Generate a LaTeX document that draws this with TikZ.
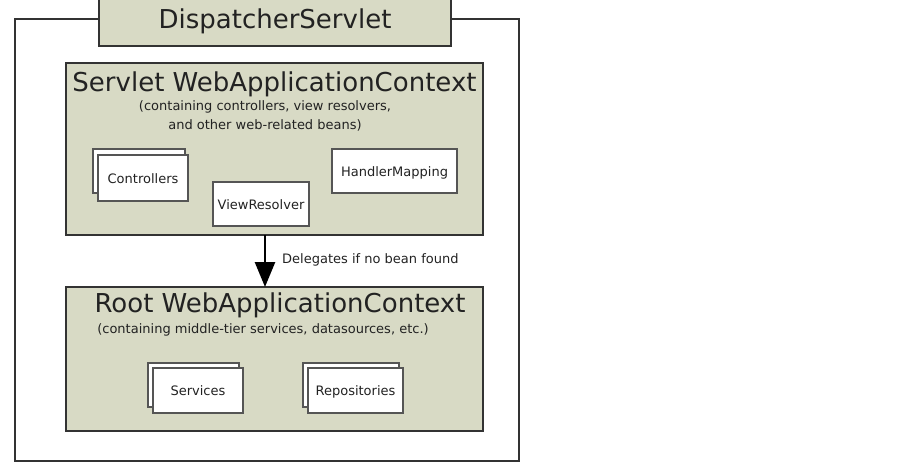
\documentclass[tikz,border=0pt]{standalone}
\usepackage{fontspec}
\setmainfont{DejaVu Sans}
\usetikzlibrary{arrows.meta}
\definecolor{ctxfill}{HTML}{D8DAC5}
\definecolor{edge}{HTML}{333333}
\definecolor{boxedge}{HTML}{555555}
\definecolor{txt}{HTML}{222222}
\begin{document}
\begin{tikzpicture}[x=1pt,y=-1pt,
  ctx/.style={draw=edge,line width=2pt,fill=ctxfill,inner sep=0pt},
  bean/.style={draw=boxedge,line width=1.3pt,fill=white,inner sep=0pt,
    font=\fontsize{13}{15}\selectfont,text=txt,text height=11pt,text depth=0.5pt},
  bigtitle/.style={font=\fontsize{26}{30}\selectfont,text=txt,inner sep=0pt},
  sub/.style={font=\fontsize{13}{19}\selectfont,text=txt,inner sep=0pt,align=center}]
\useasboundingbox (0,0) rectangle (917,468);
% outer frame
\node[draw=edge,line width=2pt,minimum width=504pt,minimum height=442pt,inner sep=0pt] (frame) at (267,240) {};
% DispatcherServlet
\node[ctx,minimum width=352pt,minimum height=50pt] (ds) at (275,21) {};
\node[bigtitle] (dst) at (ds.center) {DispatcherServlet};
% Servlet context
\node[ctx,minimum width=417pt,minimum height=172pt] (servlet) at (274.5,149) {};
\node[bigtitle] (servt) at (274.5,84) {Servlet WebApplicationContext};
\node[sub] (servs) at (265,116) {(containing controllers, view resolvers,\\and other web-related beans)};
% beans
\node[bean,minimum width=92pt,minimum height=44pt] (ctrlb) at (139,171) {};
\node[bean,minimum width=90pt,minimum height=46pt] (ctrl) at (143,178) {Controllers};
\node[bean,minimum width=96pt,minimum height=44pt] (vr) at (261,204) {ViewResolver};
\node[bean,minimum width=125pt,minimum height=44pt] (hm) at (394.5,171) {HandlerMapping};
% Root context
\node[ctx,minimum width=417pt,minimum height=144pt] (root) at (274.5,359) {};
\node[bigtitle] (roott) at (280,305) {Root WebApplicationContext};
\node[sub] (roots) at (263,330) {(containing middle-tier services, datasources, etc.)};
\node[bean,minimum width=91pt,minimum height=44pt] (svcb) at (193.5,385) {};
\node[bean,minimum width=90pt,minimum height=45pt] (svc) at (198,390.5) {Services};
\node[bean,minimum width=96pt,minimum height=44pt] (repb) at (351,385) {};
\node[bean,minimum width=95pt,minimum height=45pt] (rep) at (355.5,390.5) {Repositories};
% arrow
\coordinate (a1) at (265,235);
\coordinate (a2) at (265,287);
\draw[line width=2.6pt,-{Triangle[length=25pt,width=20pt]}] (a1) -- (a2);
\node[anchor=west,font=\fontsize{13}{15}\selectfont,text=txt,inner sep=0pt] (lbl) at (282,260) {Delegates if no bean found};
\end{tikzpicture}
\end{document}
